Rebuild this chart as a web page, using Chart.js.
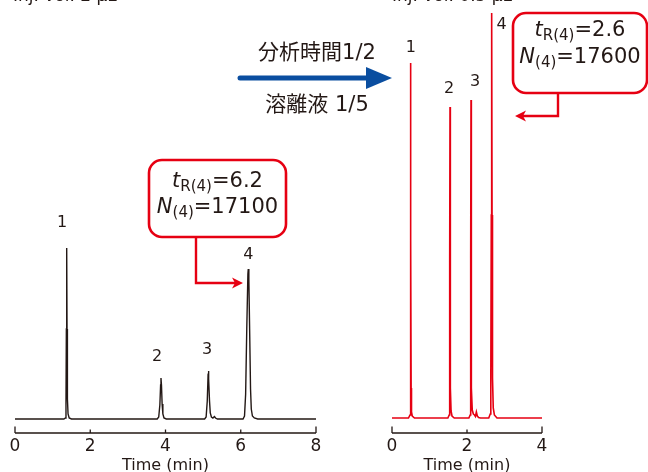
<!DOCTYPE html>
<html><head><meta charset="utf-8">
<script src="https://cdn.jsdelivr.net/npm/chart.js@4/dist/chart.umd.min.js"></script>
<style>
html,body{margin:0;padding:0;background:#fff;}
#wrap{position:relative;width:648px;height:472px;overflow:hidden;background:#fff;}
canvas{position:absolute;left:0;top:0;}
</style></head><body>
<div id="wrap"><canvas id="c1" width="648" height="472"></canvas><canvas id="c2" width="648" height="472"></canvas></div>
<script>
// ---- data ----
const xTicksLeft = [0, 2, 4, 6, 8];
const xTicksRight = [0, 2, 4];
const leftTime = [0,
  1.30,1.34,1.355,1.365,1.374,1.383,1.393,1.41,1.44,1.50,
  3.78,3.82,3.85,3.87,3.88,3.893,3.91,3.93,3.96,4.02,
  5.04,5.08,5.11,5.13,5.14,5.153,5.17,5.19,5.22,5.26,5.30,5.33,5.38,
  6.06,6.10,6.13,6.16,6.19,6.20,6.215,6.24,6.26,6.28,6.31,6.36,6.45,
  8];
const leftSignal = [0,
  0,1,15,90,171,90,20,5,1,0,
  0,2,14,34,41,34,15,5,1,0,
  0,2,18,42,48,40,18,6,2,1,2.5,1,0,
  0,3,25,90,145,150,140,80,30,10,3,1,0,
  0];
const rightTime = [0,
  0.44,0.48,0.490,0.4955,0.50,0.5045,0.51,0.52,0.54,0.60,
  1.49,1.525,1.535,1.542,1.547,1.552,1.56,1.575,1.60,1.66,
  2.05,2.085,2.095,2.102,2.107,2.112,2.12,2.14,2.17,2.20,2.225,2.25,2.275,2.31,2.36,
  2.58,2.62,2.635,2.648,2.658,2.668,2.68,2.70,2.73,2.80,
  4];
const rightSignal = [0,
  0,3,25,178,355,178,30,6,2,0,
  0,3,25,156,311,156,30,7,2,0,
  0,3,25,160,318,160,30,8,4,3,1.5,6,2,0.5,0,
  0,4,40,203,405,203,40,10,3,0,
  0];
const peakLabels = ['1', '2', '3', '4'];
const leftPeakTime = [1.374, 3.88, 5.14, 6.20];
const leftPeakHeight = [171, 41, 48, 150];
const rightPeakTime = [0.50, 1.547, 2.107, 2.658];
const rightPeakHeight = [355, 311, 318, 405];
const leftInj = 'Inj. vol. 2 μL';
const rightInj = 'Inj. vol. 0.5 μL';
const leftNote = ['6.2', '17100'];
const rightNote = ['2.6', '17600'];
const arrowTextTop = '分析時間1/2';
const arrowTextBottom = '溶離液 1/5';

// ---- styles ----
const INK = '#231815';
const RED = '#e60012';
const BLUE = '#0a4ea0';
const FONT = '"DejaVu Sans", "Noto Sans CJK JP", sans-serif';
const leftLabelOffsets = [[-4.7,-27],[-4,-23],[-1.3,-23],[0,-16]];
const rightLabelOffsets = [[0,-17],[-1,-20],[4,-20],[10,10]];

function roundRect(ctx, x, y, w, h, r) {
  ctx.beginPath();
  ctx.moveTo(x + r, y);
  ctx.lineTo(x + w - r, y);
  ctx.arcTo(x + w, y, x + w, y + r, r);
  ctx.lineTo(x + w, y + h - r);
  ctx.arcTo(x + w, y + h, x + w - r, y + h, r);
  ctx.lineTo(x + r, y + h);
  ctx.arcTo(x, y + h, x, y + h - r, r);
  ctx.lineTo(x, y + r);
  ctx.arcTo(x, y, x + r, y, r);
  ctx.closePath();
}

function drawSubLine(ctx, cx, base, sym, sub, rest) {
  const big = 21, small = 15;
  const fSym = 'oblique ' + big + 'px "DejaVu Sans"';
  const fSub = small + 'px "DejaVu Sans"';
  const fRest = big + 'px "DejaVu Sans"';
  ctx.font = fSym; const w1 = ctx.measureText(sym).width;
  ctx.font = fSub; const w2 = ctx.measureText(sub).width;
  ctx.font = fRest; const w3 = ctx.measureText(rest).width;
  let x = cx - (w1 + w2 + w3) / 2;
  ctx.fillStyle = INK; ctx.textAlign = 'left'; ctx.textBaseline = 'alphabetic';
  ctx.font = fSym; ctx.fillText(sym, x, base); x += w1;
  ctx.font = fSub; ctx.fillText(sub, x, base + 4); x += w2;
  ctx.font = fRest; ctx.fillText(rest, x, base);
}

function drawNoteBox(ctx, box, note, conn) {
  ctx.save();
  ctx.lineWidth = 2.6; ctx.strokeStyle = RED; ctx.fillStyle = '#fff';
  roundRect(ctx, box.x, box.y, box.w, box.h, 13);
  ctx.fill(); ctx.stroke();
  const cx = box.x + box.w / 2;
  drawSubLine(ctx, cx, box.b1, 't', 'R(4)', '=' + note[0]);
  drawSubLine(ctx, cx, box.b2, 'N', '(4)', '=' + note[1]);
  ctx.strokeStyle = RED; ctx.lineWidth = 2.4; ctx.lineJoin = 'miter';
  ctx.beginPath();
  ctx.moveTo(conn.x0, box.y + box.h);
  ctx.lineTo(conn.x0, conn.y);
  ctx.lineTo(conn.tip - conn.dir * 8, conn.y);
  ctx.stroke();
  ctx.fillStyle = RED;
  ctx.beginPath();
  ctx.moveTo(conn.tip, conn.y);
  ctx.lineTo(conn.tip - conn.dir * 11, conn.y - 5.5);
  ctx.lineTo(conn.tip - conn.dir * 8, conn.y);
  ctx.lineTo(conn.tip - conn.dir * 11, conn.y + 5.5);
  ctx.closePath(); ctx.fill();
  ctx.restore();
}

function drawAxis(chart, ticks) {
  const ctx = chart.ctx, xs = chart.scales.x, a = chart.chartArea;
  ctx.save();
  ctx.strokeStyle = INK; ctx.lineWidth = 1.3;
  ctx.beginPath();
  ctx.moveTo(a.left, a.bottom); ctx.lineTo(a.right, a.bottom);
  ticks.forEach((v, i) => {
    const px = xs.getPixelForValue(v);
    const len = (i === 0 || i === ticks.length - 1) ? 6.5 : 3.5;
    ctx.moveTo(px, a.bottom); ctx.lineTo(px, a.bottom - len);
  });
  ctx.stroke();
  ctx.restore();
}

function drawPeakLabels(chart, times, heights, offs) {
  const ctx = chart.ctx, xs = chart.scales.x, ys = chart.scales.y;
  ctx.save();
  ctx.fillStyle = INK; ctx.font = '16px "DejaVu Sans"';
  ctx.textAlign = 'center'; ctx.textBaseline = 'alphabetic';
  times.forEach((t, i) => {
    const px = xs.getPixelForValue(t) + offs[i][0];
    const py = ys.getPixelForValue(heights[i]) + offs[i][1];
    ctx.fillText(peakLabels[i], px, py + 5.8);
  });
  ctx.restore();
}

const leftDeco = {
  id: 'leftDeco',
  afterDraw(chart) {
    const ctx = chart.ctx;
    drawAxis(chart, xTicksLeft);
    drawPeakLabels(chart, leftPeakTime, leftPeakHeight, leftLabelOffsets);
    ctx.save();
    ctx.fillStyle = INK; ctx.font = '17px "DejaVu Sans"'; ctx.textAlign = 'left'; ctx.textBaseline = 'alphabetic';
    ctx.fillText(leftInj, 13, 1);
    ctx.strokeStyle = BLUE; ctx.lineWidth = 5; ctx.lineCap = 'round';
    ctx.beginPath(); ctx.moveTo(240, 78); ctx.lineTo(370, 78); ctx.stroke();
    ctx.fillStyle = BLUE;
    ctx.beginPath(); ctx.moveTo(392, 78); ctx.lineTo(366, 67); ctx.lineTo(366, 89); ctx.closePath(); ctx.fill();
    ctx.fillStyle = INK; ctx.font = '21px ' + FONT; ctx.textAlign = 'center';
    ctx.fillText(arrowTextTop, 317, 59);
    ctx.fillText(arrowTextBottom, 317, 111);
    ctx.restore();
    drawNoteBox(ctx, {x:149, y:160, w:137, h:77, b1:187, b2:213}, leftNote, {x0:196, y:283, tip:243, dir:1});
  }
};
const rightDeco = {
  id: 'rightDeco',
  afterDraw(chart) {
    const ctx = chart.ctx;
    drawAxis(chart, xTicksRight);
    drawPeakLabels(chart, rightPeakTime, rightPeakHeight, rightLabelOffsets);
    ctx.save();
    ctx.fillStyle = INK; ctx.font = '17px "DejaVu Sans"'; ctx.textAlign = 'left'; ctx.textBaseline = 'alphabetic';
    ctx.fillText(rightInj, 392, 1);
    ctx.restore();
    drawNoteBox(ctx, {x:513, y:13, w:134, h:80, b1:36, b2:63}, rightNote, {x0:558, y:116, tip:515, dir:-1});
  }
};

function makeChart(id, times, signal, color, xmax, ticks, padL, padR, ymin, ymax, deco) {
  return new Chart(document.getElementById(id), {
    type: 'line',
    data: { datasets: [{ data: times.map((t, i) => ({x: t, y: signal[i]})), borderColor: color, borderWidth: color === RED ? 1.6 : 1.4, pointRadius: 0, tension: 0, fill: false }] },
    options: {
      responsive: false, animation: false, devicePixelRatio: 1,
      layout: { padding: { left: padL, right: padR, top: 0, bottom: 0 } },
      plugins: { legend: { display: false }, tooltip: { enabled: false } },
      scales: {
        x: {
          type: 'linear', min: 0, max: xmax,
          afterBuildTicks: s => { s.ticks = ticks.map(v => ({ value: v })); },
          grid: { display: false, drawTicks: false }, border: { display: false },
          ticks: { padding: 5, color: INK, font: { family: 'DejaVu Sans', size: 17, lineHeight: 1 }, maxRotation: 0, autoSkip: false },
          title: { display: true, text: 'Time (min)', color: INK, font: { family: 'DejaVu Sans', size: 16, lineHeight: 0.75 }, padding: { top: 0, bottom: 0 } }
        },
        y: { display: false, min: ymin, max: ymax }
      }
    },
    plugins: [deco]
  });
}
makeChart('c1', leftTime, leftSignal, INK, 8, xTicksLeft, 15, 332, -14, 419, leftDeco);
makeChart('c2', rightTime, rightSignal, RED, 4, xTicksRight, 392, 106, -15, 418, rightDeco);
</script>
</body></html>
